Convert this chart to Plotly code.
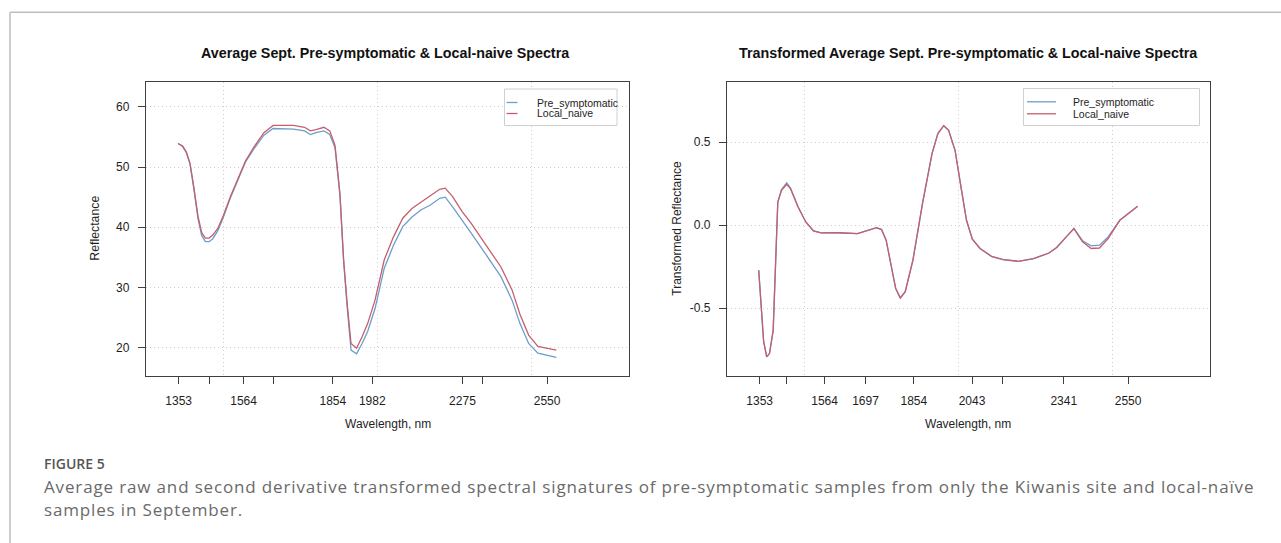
import plotly.graph_objects as go

# ---------------- data ----------------
raw_wavelength = [1351, 1366, 1378, 1390, 1402, 1416, 1428, 1440, 1452, 1464, 1480, 1498,
                  1522, 1546, 1570, 1600, 1630, 1660, 1690, 1726, 1762, 1781, 1799, 1825,
                  1844, 1861, 1877, 1889, 1901, 1913, 1931, 1949, 1967, 1991, 2021, 2051,
                  2081, 2111, 2141, 2171, 2201, 2219, 2243, 2274, 2304, 2352, 2400, 2436,
                  2462, 2490, 2520, 2580]
raw_pre_symptomatic = [53.9, 53.4, 52.4, 50.5, 46.5, 41.4, 38.6, 37.6, 37.6, 38.1, 39.4, 41.6,
                       45.0, 48.0, 50.8, 53.2, 55.3, 56.4, 56.4, 56.3, 56.0, 55.4, 55.7, 56.0,
                       55.4, 53.2, 45.3, 34.3, 26.5, 19.6, 19.0, 20.7, 22.7, 26.5, 33.2, 37.0,
                       40.1, 41.7, 42.9, 43.7, 44.8, 45.0, 43.4, 41.2, 39.0, 35.4, 31.8, 27.9,
                       24.0, 20.7, 19.1, 18.4]
raw_local_naive = [53.9, 53.5, 52.5, 50.6, 46.8, 41.8, 39.1, 38.2, 38.2, 38.7, 39.8, 41.9,
                   45.2, 48.2, 51.0, 53.5, 55.7, 56.9, 56.9, 56.9, 56.6, 56.0, 56.2, 56.6,
                   56.0, 53.6, 45.6, 34.6, 27.0, 20.7, 19.9, 21.8, 24.0, 27.9, 34.6, 38.4,
                   41.5, 43.1, 44.2, 45.2, 46.3, 46.5, 45.1, 42.6, 40.6, 37.0, 33.4, 29.6,
                   25.5, 22.1, 20.2, 19.6]

tr_wavelength = [1350, 1360, 1366, 1376, 1385, 1397, 1412, 1424, 1441, 1453, 1478, 1503,
                 1528, 1553, 1608, 1671, 1702, 1733, 1749, 1764, 1795, 1810, 1826, 1851,
                 1882, 1913, 1932, 1951, 1967, 1988, 2007, 2025, 2044, 2069, 2106, 2144,
                 2193, 2243, 2293, 2318, 2349, 2374, 2402, 2430, 2457, 2485, 2523, 2581]
tr_pre_symptomatic = [-0.271, -0.532, -0.70, -0.793, -0.773, -0.633, 0.14, 0.215, 0.255, 0.225,
                      0.11, 0.02, -0.034, -0.046, -0.045, -0.05, -0.034, -0.014, -0.026, -0.09,
                      -0.381, -0.438, -0.40, -0.21, 0.13, 0.432, 0.552, 0.60, 0.572, 0.45,
                      0.231, 0.03, -0.084, -0.14, -0.187, -0.207, -0.217, -0.201, -0.167, -0.134,
                      -0.07, -0.02, -0.093, -0.124, -0.12, -0.07, 0.03, 0.114]
tr_local_naive = [-0.271, -0.532, -0.70, -0.793, -0.773, -0.633, 0.14, 0.21, 0.247, 0.221,
                  0.11, 0.02, -0.034, -0.046, -0.045, -0.05, -0.034, -0.014, -0.026, -0.09,
                  -0.381, -0.438, -0.40, -0.21, 0.13, 0.432, 0.552, 0.60, 0.572, 0.45,
                  0.231, 0.03, -0.084, -0.14, -0.187, -0.207, -0.217, -0.201, -0.167, -0.134,
                  -0.07, -0.02, -0.10, -0.14, -0.137, -0.08, 0.03, 0.114]

left_xtick_vals = [1353, 1452, 1564, 1661, 1854, 1982, 2275, 2341, 2550]
left_xtick_text = ["1353", "", "1564", "", "1854", "1982", "2275", "", "2550"]
right_xtick_vals = [1353, 1441, 1564, 1697, 1854, 2043, 2141, 2341, 2550]
right_xtick_text = ["1353", "", "1564", "1697", "1854", "2043", "", "2341", "2550"]
left_ytick_vals = [20, 30, 40, 50, 60]
right_ytick_vals = [-0.5, 0.0, 0.5]
right_ytick_text = ["-0.5", "0.0", "0.5"]

series_names = ["Pre_symptomatic", "Local_naive"]
series_colors = ["#6d9dca", "#c45f6b"]

# ---------------- layout helpers ----------------
W, H = 1281, 543
def px(x):
    return x / W
def py(y):
    return 1 - y / H

FONT = "Liberation Sans, Arial, sans-serif"
AXC = "#3f3f3f"
GRIDC = "#cfcfcf"

fig = go.Figure()
fig.add_trace(go.Scatter(x=raw_wavelength, y=raw_pre_symptomatic, mode="lines",
                         line=dict(color=series_colors[0], width=1.3),
                         name=series_names[0], xaxis="x", yaxis="y", showlegend=False))
fig.add_trace(go.Scatter(x=raw_wavelength, y=raw_local_naive, mode="lines",
                         line=dict(color=series_colors[1], width=1.3),
                         name=series_names[1], xaxis="x", yaxis="y", showlegend=False))
fig.add_trace(go.Scatter(x=tr_wavelength, y=tr_pre_symptomatic, mode="lines",
                         line=dict(color=series_colors[0], width=1.3),
                         name=series_names[0], xaxis="x2", yaxis="y2", showlegend=False))
fig.add_trace(go.Scatter(x=tr_wavelength, y=tr_local_naive, mode="lines",
                         line=dict(color=series_colors[1], width=1.3),
                         name=series_names[1], xaxis="x2", yaxis="y2", showlegend=False))

common_x = dict(range=[1247, 2816], showline=True, mirror=True, linecolor=AXC, linewidth=1.3,
                ticks="outside", ticklen=7, tickcolor=AXC, tickwidth=1,
                showgrid=False, zeroline=False,
                tickfont=dict(family=FONT, size=12, color="#1e1e1e"),
                ticklabelstandoff=6,
                minor=dict(tick0=0, dtick=500, showgrid=True, gridcolor=GRIDC,
                           griddash="1px,3px", gridwidth=1))
common_y = dict(showline=True, mirror=True, linecolor=AXC, linewidth=1.3,
                ticks="outside", ticklen=7, tickcolor=AXC, tickwidth=1,
                showgrid=True, gridcolor=GRIDC, griddash="1px,3px", gridwidth=1,
                zeroline=False, tickfont=dict(family=FONT, size=12, color="#1e1e1e"),
                ticklabelstandoff=6)

y_dom = [py(376), py(81.5)]
fig.update_layout(
    width=W, height=H, margin=dict(l=0, r=0, t=0, b=0),
    paper_bgcolor="white", plot_bgcolor="white",
    xaxis=dict(domain=[px(146), px(629)], anchor="y", tickvals=left_xtick_vals,
               ticktext=left_xtick_text, **common_x),
    yaxis=dict(domain=y_dom, anchor="x", range=[15.3, 64.2], tickvals=left_ytick_vals,
               **common_y),
    xaxis2=dict(domain=[px(727), px(1210)], anchor="y2", tickvals=right_xtick_vals,
                ticktext=right_xtick_text, **common_x),
    yaxis2=dict(domain=y_dom, anchor="x2", range=[-0.908, 0.866], tickvals=right_ytick_vals,
                ticktext=right_ytick_text, **common_y),
    showlegend=False,
)

annotations = []
shapes = []

# titles
annotations.append(dict(text="<b>Average Sept. Pre-symptomatic & Local-naive Spectra</b>",
                        x=px(385), y=py(53), xref="paper", yref="paper", showarrow=False,
                        xanchor="center", yanchor="middle",
                        font=dict(family=FONT, size=14.3, color="#111")))
annotations.append(dict(text="<b>Transformed Average Sept. Pre-symptomatic & Local-naive Spectra</b>",
                        x=px(968.5), y=py(53), xref="paper", yref="paper", showarrow=False,
                        xanchor="center", yanchor="middle",
                        font=dict(family=FONT, size=14.3, color="#111")))
# axis titles
for cx in (387.5, 968.5):
    annotations.append(dict(text="Wavelength, nm", x=px(cx), y=py(424), xref="paper",
                            yref="paper", showarrow=False, xanchor="center", yanchor="middle",
                            font=dict(family=FONT, size=12, color="#1e1e1e")))
annotations.append(dict(text="Reflectance", x=px(95), y=py(228.7), xref="paper", yref="paper",
                        showarrow=False, textangle=-90, xanchor="center", yanchor="middle",
                        font=dict(family=FONT, size=12.3, color="#1e1e1e")))
annotations.append(dict(text="Transformed Reflectance", x=px(677), y=py(228.7), xref="paper",
                        yref="paper", showarrow=False, textangle=-90, xanchor="center",
                        yanchor="middle", font=dict(family=FONT, size=12, color="#1e1e1e")))

# legends (box, line keys, labels)
legend_specs = [
    dict(box=(504.5, 89, 617, 125.5), line=(506.5, 517.5), text_x=535, rows=(102.5, 113.5)),
    dict(box=(1023.5, 88.5, 1199.5, 125.5), line=(1027, 1056), text_x=1070.5, rows=(101.8, 113.8)),
]
for spec in legend_specs:
    x0, y0, x1, y1 = spec["box"]
    shapes.append(dict(type="rect", xref="paper", yref="paper", x0=px(x0), x1=px(x1),
                       y0=py(y1), y1=py(y0), line=dict(color="#d0d0d0", width=1),
                       fillcolor="white", layer="above"))
    for name, color, ry in zip(series_names, series_colors, spec["rows"]):
        shapes.append(dict(type="line", xref="paper", yref="paper", x0=px(spec["line"][0]),
                           x1=px(spec["line"][1]), y0=py(ry), y1=py(ry),
                           line=dict(color=color, width=1.3), layer="above"))
        annotations.append(dict(text=name, x=px(spec["text_x"]), y=py(ry), xref="paper",
                                yref="paper", showarrow=False, xanchor="left",
                                yanchor="middle",
                                font=dict(family=FONT, size=10.5, color="#1e1e1e")))

# figure frame (top and left rules)
shapes.append(dict(type="line", xref="paper", yref="paper", x0=px(10), x1=1, y0=py(12.3),
                   y1=py(12.3), line=dict(color="#bdbdbd", width=1.5)))
shapes.append(dict(type="line", xref="paper", yref="paper", x0=px(10), x1=px(10), y0=0,
                   y1=py(12.3), line=dict(color="#bdbdbd", width=1.5)))

# caption
CAP_FONT = "Open Sans, Noto Sans, sans-serif"
CAP_STYLE = '<span style="letter-spacing:0.85px">{}</span>'
annotations.append(dict(text="FIGURE 5", x=px(42), y=py(463), xref="paper", yref="paper",
                        showarrow=False, xanchor="left", yanchor="middle",
                        font=dict(family=CAP_FONT, size=14, color="#555", weight=600)))
annotations.append(dict(text=CAP_STYLE.format(
                            "Average raw and second derivative transformed spectral signatures of "
                            "pre-symptomatic samples from only the Kiwanis site and local-naïve"),
                        x=px(42), y=py(486), xref="paper", yref="paper", showarrow=False,
                        xanchor="left", yanchor="middle",
                        font=dict(family=CAP_FONT, size=17, color="#6a6a6a")))
annotations.append(dict(text=CAP_STYLE.format("samples in September."), x=px(42), y=py(509),
                        xref="paper", yref="paper", showarrow=False, xanchor="left",
                        yanchor="middle",
                        font=dict(family=CAP_FONT, size=17, color="#6a6a6a")))

fig.update_layout(annotations=annotations, shapes=shapes)
fig.write_html("out.html")
